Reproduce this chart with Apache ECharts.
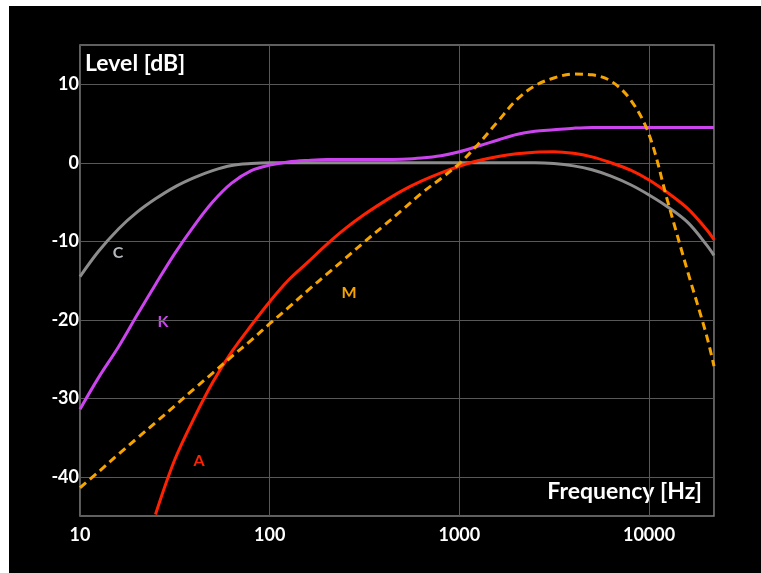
<!DOCTYPE html>
<html>
<head>
<meta charset="utf-8">
<script src="https://cdn.jsdelivr.net/npm/echarts@6/dist/echarts.min.js"></script>
<style>
  html, body { margin: 0; padding: 0; background: #fff; }
  #chart { position: absolute; left: 9px; top: 6px; width: 752px; height: 567px; }
</style>
</head>
<body>
<div id="chart"></div>
<script>
// frequencies (Hz), third-octave points
const freqs = [10, 12.5, 16, 20, 25, 31.5, 40, 50, 63, 80, 100, 125, 160, 200, 250, 315, 400, 500, 630, 800,
  1000, 1250, 1600, 2000, 2500, 3150, 4000, 5000, 6300, 8000, 10000, 12500, 16000, 20000, 22000]

// levels (dB)
const levelC = [-14.5, -11.3, -8.4, -6.3, -4.6, -3.1, -1.9, -1.0, -0.35, -0.1, 0, 0, 0, 0, 0, 0, 0, 0, 0, 0,
  0, 0, 0, 0, 0, -0.1, -0.4, -0.9, -1.7, -2.8, -4.1, -5.6, -7.6, -10.4, -11.8]
const levelK = [-31.4, -27.4, -23.4, -19.4, -15.5, -11.6, -8.0, -5.0, -2.6, -1.0, -0.3, 0.1, 0.3, 0.4, 0.4, 0.4, 0.4, 0.45, 0.6, 0.9,
  1.4, 2.1, 2.9, 3.6, 4.0, 4.2, 4.4, 4.5, 4.5, 4.5, 4.5, 4.5, 4.5, 4.5, 4.5]
const levelA = [null, null, null, null, -44.8, -37.9, -32.5, -28.0, -24.1, -20.7, -17.7, -15.0, -12.6, -10.4, -8.4, -6.6, -4.95, -3.55, -2.35, -1.3,
  -0.45, 0.25, 0.8, 1.15, 1.35, 1.4, 1.2, 0.75, 0.0, -0.95, -2.2, -3.8, -5.85, -8.45, -9.8]
const levelM = [-41.4, -39.4, -37.1, -35.1, -33.1, -31.0, -28.8, -26.8, -24.7, -22.6, -20.5, -18.5, -16.2, -14.2, -12.2, -10.1, -8.0, -6.0, -3.9, -2.0,
  -0.1, 2.3, 5.3, 8.0, 9.8, 10.8, 11.3, 11.2, 10.4, 8.0, 3.6, -4.8, -13.9, -21.8, -25.9]

const curveNames = ['C', 'K', 'A', 'M']
const curveColors = ['#8c8c8c', '#cc44ee', '#ff2200', '#f5a300']

const pairs = (vals) => freqs.map((f, i) => [f, vals[i]])

const chart = echarts.init(document.getElementById('chart'))

const lineSeries = (name, vals, color, dashed) => ({
  name: name,
  type: 'line',
  data: pairs(vals),
  smooth: 0.35,
  showSymbol: false,
  connectNulls: false,
  lineStyle: {
    color: color,
    width: 3,
    type: dashed ? [8, 5] : 'solid'
  },
  clip: true
})

const bold = { fontFamily: 'Lato', fontWeight: 'bold' }

chart.setOption({
  backgroundColor: '#000',
  animation: false,
  grid: {
    left: 71, top: 39, width: 634, height: 471,
    show: true, borderColor: '#808080', borderWidth: 1.5
  },
  xAxis: {
    type: 'log',
    logBase: 10,
    min: 10,
    max: 22000,
    axisLine: { show: false },
    axisTick: { show: false },
    axisLabel: {
      color: '#fff', fontSize: 18, margin: 10, showMaxLabel: false,
      fontFamily: 'Lato', fontWeight: 'bold',
      formatter: (v) => String(Math.round(v))
    },
    splitLine: { lineStyle: { color: '#585858', width: 1 } }
  },
  yAxis: {
    type: 'value',
    min: -45,
    max: 15,
    interval: 5,
    axisLine: { show: false },
    axisTick: { show: false },
    axisLabel: {
      color: '#fff', fontSize: 18, margin: 1,
      fontFamily: 'Lato', fontWeight: 'bold',
      formatter: (v) => (v % 10 === 0 ? String(v) : '')
    },
    splitLine: { lineStyle: { color: ['rgba(0,0,0,0)', '#585858'], width: 1 } }
  },
  series: [
    lineSeries('C', levelC, curveColors[0], false),
    lineSeries('K', levelK, curveColors[1], false),
    lineSeries('A', levelA, curveColors[2], false),
    lineSeries('M', levelM, curveColors[3], true)
  ],
  graphic: [
    { type: 'text', left: 76, top: 46, style: Object.assign({ text: 'Level [dB]', fill: '#fff', fontSize: 23 }, bold) },
    { type: 'text', right: 59, top: 474, style: Object.assign({ text: 'Frequency [Hz]', fill: '#fff', fontSize: 23 }, bold) },
    { type: 'text', x: 109, y: 247, style: Object.assign({ text: curveNames[0], fill: '#b4b8bc', fontSize: 16, align: 'center', verticalAlign: 'middle' }, bold) },
    { type: 'text', x: 154, y: 316, style: Object.assign({ text: curveNames[1], fill: curveColors[1], fontSize: 16, align: 'center', verticalAlign: 'middle' }, bold) },
    { type: 'text', x: 190, y: 455, style: Object.assign({ text: curveNames[2], fill: curveColors[2], fontSize: 16, align: 'center', verticalAlign: 'middle' }, bold) },
    { type: 'text', x: 340, y: 287, style: Object.assign({ text: curveNames[3], fill: curveColors[3], fontSize: 16, align: 'center', verticalAlign: 'middle' }, bold) }
  ]
})
</script>
</body>
</html>
